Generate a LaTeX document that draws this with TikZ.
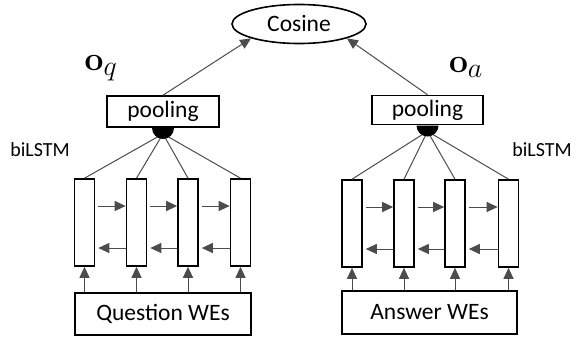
\documentclass[tikz,border=0pt]{standalone}
\usepackage{amsmath}
\usepackage{amssymb}
\usepackage[no-math]{fontspec}
\setmainfont{Carlito}
\usetikzlibrary{arrows.meta,shapes.geometric,positioning}

\begin{document}
\begin{tikzpicture}[x=1pt,y=-1pt,
    box/.style={draw, line width=1.6pt, inner sep=0pt, font=\fontsize{23.5}{28}\selectfont},
    cell/.style={draw, line width=1.6pt, minimum width=20pt, minimum height=87pt, inner sep=0pt},
    dot/.style={semicircle, fill, shape border rotate=180, inner sep=0pt, minimum width=22pt, minimum height=11pt, anchor=chord center},
    vec/.style={font=\Huge, scale=1.35},
    link/.style={draw=black!70, line width=1pt},
    tip/.style={-{Triangle[length=11pt,width=10pt]}}]
    \useasboundingbox (0,0) rectangle (577,340);
    \node [box, ellipse, minimum width=134pt, minimum height=39pt] (cosine) at (299,24) {Cosine};
    \node [box, minimum width=112pt, minimum height=31pt] (qpool) at (163,111.5) {pooling};
    \node [box, minimum width=111pt, minimum height=29pt] (apool) at (427.5,110) {pooling};
    \foreach \i/\x in {1/84.5,2/136.5,3/188,4/240.5}
        \node [cell] (q\i) at (\x,222.5) {};
    \foreach \i/\x in {1/352,2/404,3/455,4/508.5}
        \node [cell] (a\i) at (\x,223.5) {};
    \node [box, minimum width=176pt, minimum height=42pt] (qwe) at (163,314) {Question WEs};
    \node [box, minimum width=175pt, minimum height=43pt] (awe) at (429.5,312.5) {Answer WEs};
    % labels
    \node [vec] (oq) at (101,68) {$\mathbf{o}_q$};
    \node [vec] (oa) at (466,68) {$\mathbf{o}_a$};
    \node [font=\fontsize{20}{24}\selectfont] (qlstm) at (40,150) {biLSTM};
    \node [font=\fontsize{20}{24}\selectfont] (alstm) at (542,150) {biLSTM};
    % connectors
    \draw [link,tip] (qpool.north) -- (cosine.south west);
    \draw [link,tip] (apool.north) -- (cosine.south east);
    \foreach \s in {q,a} {
        \foreach \i in {1,...,4} {
            \draw [link] ([yshift=-6pt]\s pool.south) -- (\s\i.north);
            \draw [link,tip] (\s we.north -| \s\i) -- (\s\i.south);
        }
        \foreach \i/\j in {1/2,2/3,3/4} {
            \draw [link,tip] ([xshift=3pt,yshift=16.5pt]\s\i.east) -- ([yshift=16.5pt]\s\j.west);
            \draw [link,tip] ([yshift=-25.5pt]\s\j.west) -- ([xshift=3pt,yshift=-25.5pt]\s\i.east);
        }
        \node [dot] (\s dot) at (\s pool.south) {};
    }
\end{tikzpicture}
\end{document}
